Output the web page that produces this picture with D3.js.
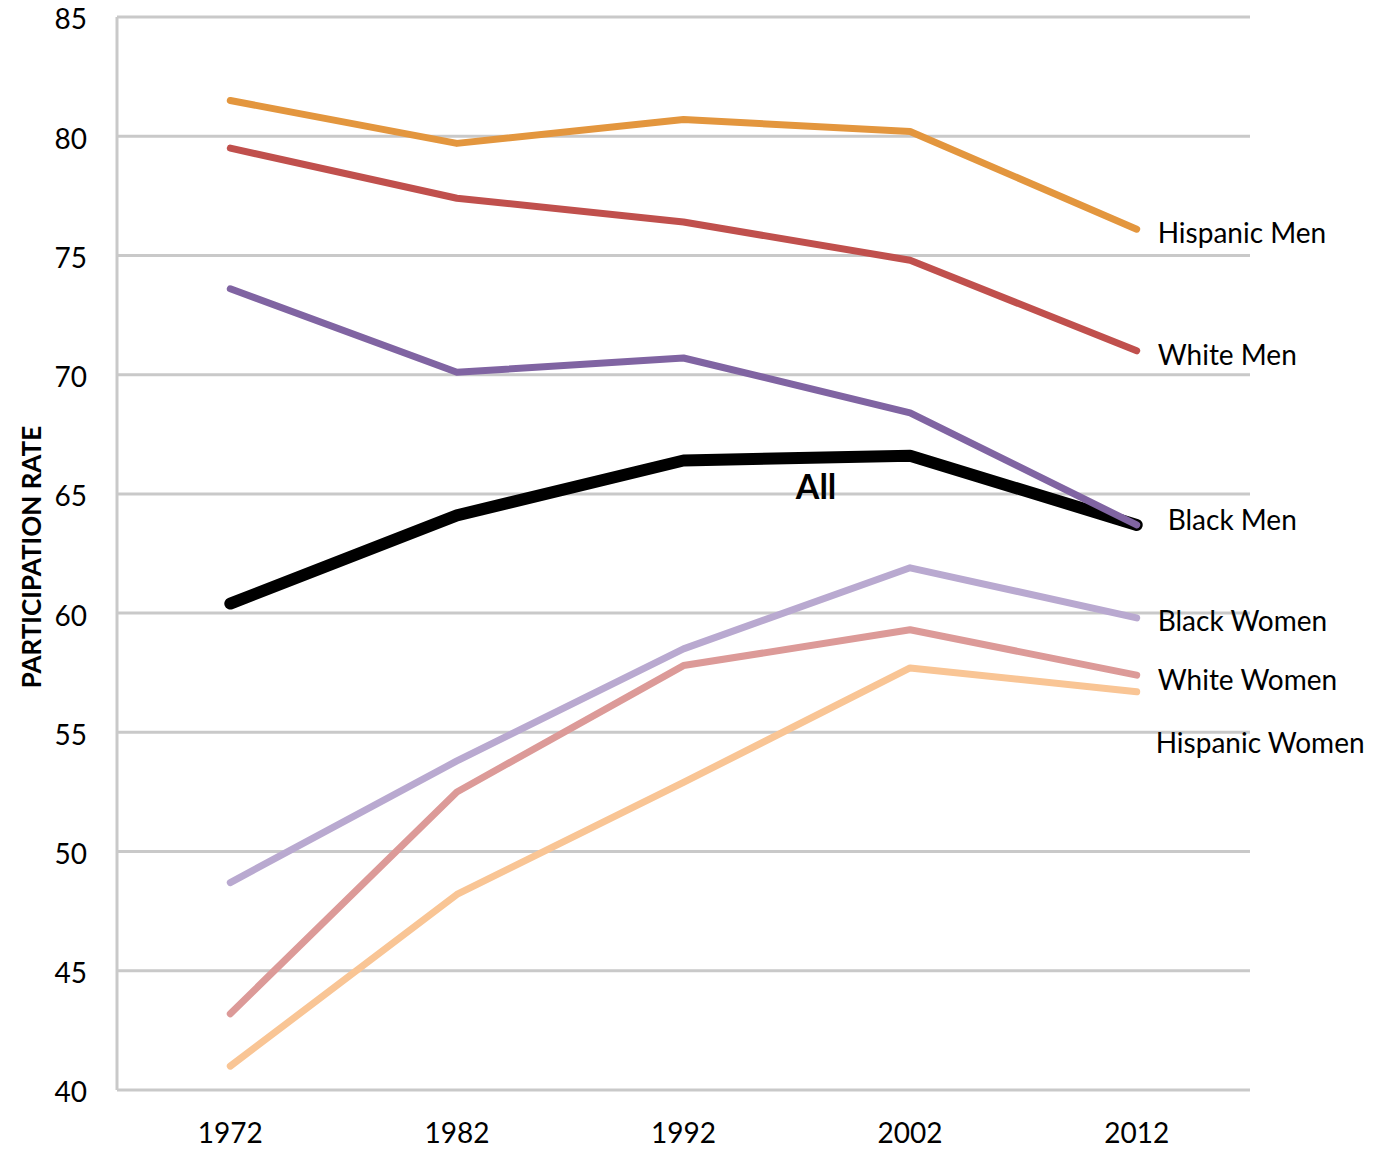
<!DOCTYPE html>
<html>
<head>
<meta charset="utf-8">
<script src="https://cdn.jsdelivr.net/npm/d3@7"></script>
<style>
    body { margin: 0; background: #fff; }
    text { font-family: Lato, "Open Sans", sans-serif; fill: #000; }
</style>
</head>
<body>
<div id="chart"></div>
<script>
// Labor force participation rate by group
const years = ['1972', '1982', '1992', '2002', '2012'];
const yTicks = [40, 45, 50, 55, 60, 65, 70, 75, 80, 85];

const hispanicMen = [81.5, 79.7, 80.7, 80.2, 76.1];
const whiteMen = [79.5, 77.4, 76.4, 74.8, 71.0];
const blackMen = [73.6, 70.1, 70.7, 68.4, 63.7];
const allWorkers = [60.4, 64.1, 66.4, 66.6, 63.7];
const blackWomen = [48.7, 53.8, 58.5, 61.9, 59.8];
const whiteWomen = [43.2, 52.5, 57.8, 59.3, 57.4];
const hispanicWomen = [41.0, 48.2, 52.9, 57.7, 56.7];

const seriesNames = ['All', 'Hispanic Men', 'White Men', 'Black Men', 'Black Women', 'White Women', 'Hispanic Women'];
const seriesValues = [allWorkers, hispanicMen, whiteMen, blackMen, blackWomen, whiteWomen, hispanicWomen];
const seriesColors = ['#000000', '#e3963e', '#c0504d', '#8064a2', '#b9a9d0', '#dc9a98', '#f9c595'];

// end labels: name, horizontal gap from the 2012 point, value where the label sits
const endLabels = [
    ['Hispanic Men', 21, 75.95],
    ['White Men', 21, 70.8],
    ['Black Men', 31, 63.9],
    ['Black Women', 21, 59.65],
    ['White Women', 21, 57.2],
    ['Hispanic Women', 19, 54.55]
];

const width = 1373, height = 1151;
const margin = { top: 17, right: 123, bottom: 61, left: 117 };

const svg = d3.select('#chart').append('svg')
    .attr('width', width)
    .attr('height', height);

const x = d3.scaleBand()
    .domain(years)
    .range([margin.left, width - margin.right]);

const y = d3.scaleLinear()
    .domain([40, 85])
    .range([height - margin.bottom, margin.top]);

// gridlines
svg.append('g')
    .selectAll('line')
    .data(yTicks)
    .enter().append('line')
    .attr('x1', margin.left)
    .attr('x2', width - margin.right)
    .attr('y1', d => y(d))
    .attr('y2', d => y(d))
    .attr('stroke', '#c9c9c9')
    .attr('stroke-width', 3);

// left axis line
svg.append('line')
    .attr('x1', margin.left).attr('x2', margin.left)
    .attr('y1', y(85)).attr('y2', y(40))
    .attr('stroke', '#c9c9c9')
    .attr('stroke-width', 3);

// y tick labels
const yAxis = d3.axisLeft(y).tickValues(yTicks).tickSize(0).tickPadding(30);
const yg = svg.append('g').attr('transform', `translate(${margin.left},3)`).call(yAxis);
yg.select('.domain').remove();
yg.selectAll('text').attr('font-size', 28).attr('font-family', 'Lato, "Open Sans", sans-serif').attr('fill', '#000');

// x tick labels
const xAxis = d3.axisBottom(x).tickSize(0).tickPadding(33);
const xg = svg.append('g').attr('transform', `translate(0,${height - margin.bottom})`).call(xAxis);
xg.select('.domain').remove();
xg.selectAll('text').attr('font-size', 28).attr('font-family', 'Lato, "Open Sans", sans-serif').attr('fill', '#000');

// axis title
svg.append('text')
    .attr('transform', `translate(41,${y(62.35)}) rotate(-90)`)
    .attr('text-anchor', 'middle')
    .attr('font-size', 26)
    .attr('font-weight', 'bold')
    .text('PARTICIPATION RATE');

const line = d3.line()
    .x((d, i) => x(years[i]) + x.bandwidth() / 2)
    .y(d => y(d));

svg.append('g')
    .selectAll('path')
    .data(seriesValues)
    .enter().append('path')
    .attr('d', d => line(d))
    .attr('fill', 'none')
    .attr('stroke', (d, i) => seriesColors[i])
    .attr('stroke-width', (d, i) => i === 0 ? 12 : 7)
    .attr('stroke-linecap', 'round')
    .attr('stroke-linejoin', 'round');

// series labels
svg.append('g')
    .selectAll('text')
    .data(endLabels)
    .enter().append('text')
    .attr('x', d => x('2012') + x.bandwidth() / 2 + d[1])
    .attr('y', d => y(d[2]))
    .attr('dy', '0.35em')
    .attr('font-size', 28)
    .text(d => d[0]);

svg.append('text')
    .attr('x', x('1992') + x.bandwidth() - 1)
    .attr('y', y(65.3))
    .attr('dy', '0.35em')
    .attr('font-size', 34)
    .attr('font-weight', 'bold')
    .text('All');
</script>
</body>
</html>
